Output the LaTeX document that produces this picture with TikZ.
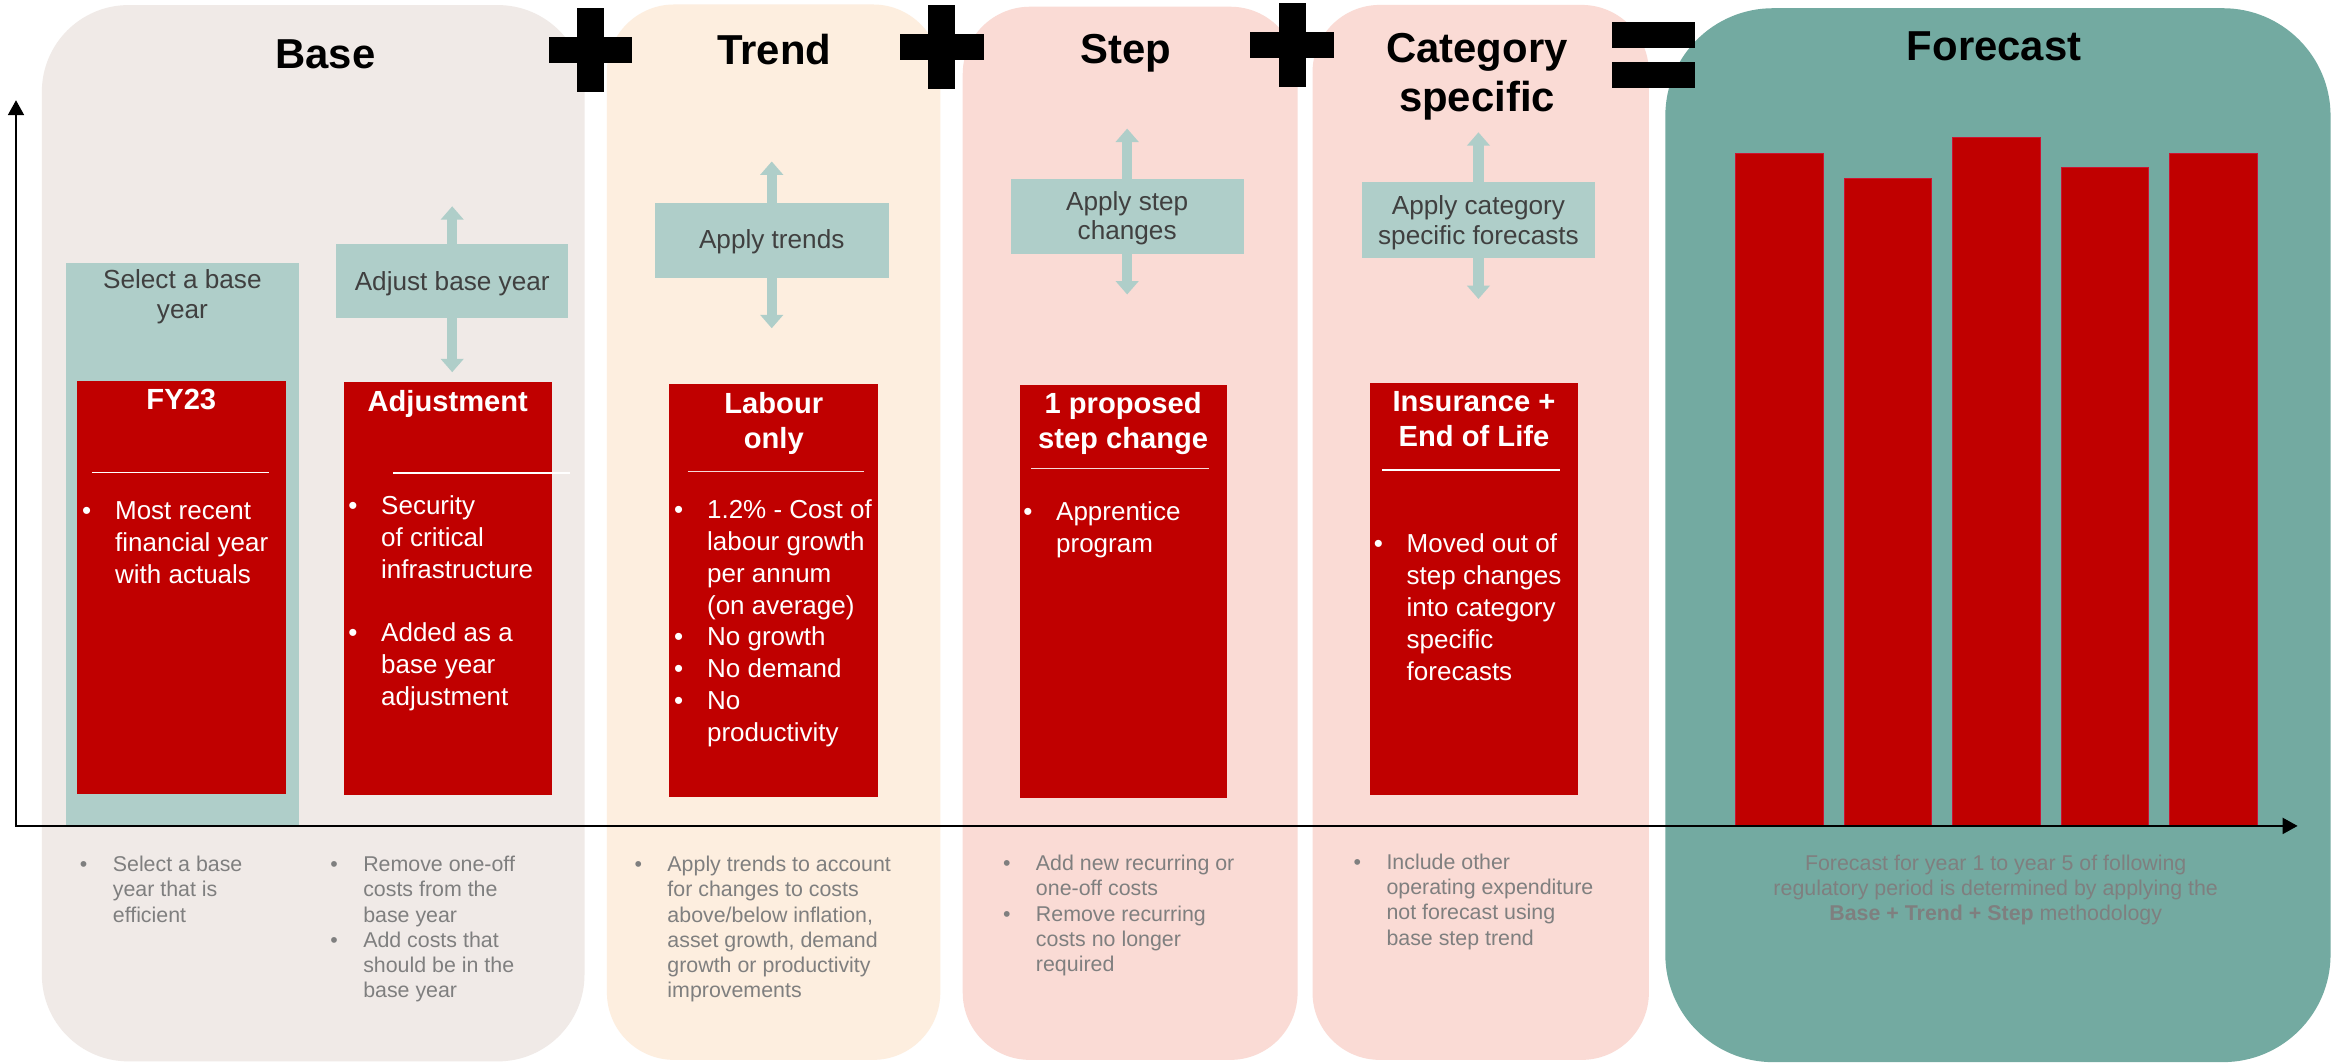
\documentclass[tikz,border=0pt]{standalone}
\usepackage{fontspec}
\setmainfont{Liberation Sans}
\usetikzlibrary{arrows.meta,fit}

\definecolor{basebg}{RGB}{240,234,231}
\definecolor{trendbg}{RGB}{253,238,223}
\definecolor{stepbg}{RGB}{250,219,213}
\definecolor{fcbg}{RGB}{115,170,161}
\definecolor{tealbox}{RGB}{175,206,201}
\definecolor{redbox}{RGB}{192,0,0}
\definecolor{baredge}{RGB}{205,20,50}
\definecolor{darktxt}{RGB}{64,64,64}
\definecolor{greytxt}{RGB}{127,127,127}

% stacked rows whose baseline is the first row's baseline
\newcommand\leftrows[1]{\vtop{\let\\\cr\halign{##\hfil\cr#1\crcr}}}
\newcommand\midrows[1]{\vtop{\let\\\cr\halign{\hfil##\hfil\cr#1\crcr}}}
% bullet and hanging indent
\newcommand\bmark{\hbox to 22pt{\textbullet\hfil}}
\newcommand\bcont{\hskip22pt\relax}

\tikzset{
  every node/.style={inner sep=0pt,outer sep=0pt},
  tealrect/.style={fill=tealbox},
  redrect/.style={fill=redbox},
  sepline/.style={draw=white,line width=1pt},
  tealarrow/.style={draw=tealbox,line width=7pt,-{Triangle[length=9pt,width=15pt]}},
  axisline/.style={draw=black,line width=1.8pt,
    {Triangle[length=10pt,width=10.5pt]}-{Triangle[length=10pt,width=10.5pt]}},
  bar/.style={fill=redbox,draw=baredge,line width=0.6pt},
  titletxt/.style={anchor=base,text=black,font=\fontsize{28}{32.7}\selectfont\bfseries},
  headtxt/.style={anchor=base,text=white,font=\fontsize{19.5}{23.4}\selectfont\bfseries},
  bodytxt/.style={anchor=base west,text=white,font=\fontsize{17.4}{21.35}\selectfont},
  tealtxt/.style={anchor=base,text=darktxt,font=\fontsize{17.5}{20}\selectfont},
  notetxt/.style={anchor=base west,text=greytxt,font=\fontsize{14.3}{16.9}\selectfont},
  plussign/.pic={\fill[black] (-28,-8.7) rectangle (28,8.7);
                 \fill[black] (-9,-28) rectangle (9,28);}
}

\begin{document}
\begin{tikzpicture}[x=1pt,y=-1pt]
\useasboundingbox (0,0) rectangle (1568,711);
\fill[white] (0,0) rectangle (1568,711);

% column panels
\fill[basebg,rounded corners=58pt] (28,3.4) rectangle (391,710);
\fill[trendbg,rounded corners=45pt] (406,3) rectangle (629,709);
\fill[stepbg,rounded corners=45pt] (644,4.5) rectangle (868,709);
\fill[stepbg,rounded corners=45pt] (878,3.3) rectangle (1103,709);
\fill[fcbg,rounded corners=72pt] (1114,5.5) rectangle (1559,710.5);

% teal action boxes
\node[tealrect,fit={(44,176) (200,552.5)}] (sel) {};
\node[tealrect,fit={(225,163) (380,213)}] (adj) {};
\node[tealrect,fit={(438,135.5) (594.5,186)}] (trd) {};
\node[tealrect,fit={(676,120) (832,170)}] (stpa) {};
\node[tealrect,fit={(911,122) (1067,172.5)}] (cata) {};

% red content boxes
\node[redrect,fit={(51.5,255) (191,531)}] (fy) {};
\node[redrect,fit={(230,255.5) (369,532)}] (adjb) {};
\node[redrect,fit={(447.7,257) (587.5,533)}] (lab) {};
\node[redrect,fit={(682,257.5) (820.5,533.5)}] (stpb) {};
\node[redrect,fit={(916.5,256) (1055.5,532)}] (ins) {};

% separators under the box headings
\draw[sepline] (61.5,316) -- (180,316);
\draw[sepline] (263,316.5) -- (381.5,316.5);
\draw[sepline,draw opacity=0.85] (460,315.5) -- (578,315.5);
\draw[sepline,draw opacity=0.85] (690,313.5) -- (808.7,313.5);
\draw[sepline] (924.5,314.4) -- (1043.5,314.4);

% up/down arrows on the action boxes
\coordinate (adjup) at (302.5,138);   \coordinate (adjdn) at (302.5,249);
\coordinate (trdup) at (516.25,108);  \coordinate (trddn) at (516.25,219.6);
\coordinate (stpup) at (754,86);      \coordinate (stpdn) at (754,197);
\coordinate (catup) at (989,88.5);    \coordinate (catdn) at (989,200);
\draw[tealarrow] (adj.north) -- (adjup);
\draw[tealarrow] (adj.south) -- (adjdn);
\draw[tealarrow] (trd.north) -- (trdup);
\draw[tealarrow] (trd.south) -- (trddn);
\draw[tealarrow] (stpa.north) -- (stpup);
\draw[tealarrow] (stpa.south) -- (stpdn);
\draw[tealarrow] (cata.north) -- (catup);
\draw[tealarrow] (cata.south) -- (catdn);

% forecast bars
\fill[bar] (1161,102.6) rectangle (1220,552.5);
\fill[bar] (1233.5,119.5) rectangle (1292,552.5);
\fill[bar] (1306,92) rectangle (1365,552.5);
\fill[bar] (1379,112) rectangle (1437.5,552.5);
\fill[bar] (1451.5,102.6) rectangle (1510,552.5);
\draw[bar] (1161,102.6) rectangle (1220,552.5);
\draw[bar] (1233.5,119.5) rectangle (1292,552.5);
\draw[bar] (1306,92) rectangle (1365,552.5);
\draw[bar] (1379,112) rectangle (1437.5,552.5);
\draw[bar] (1451.5,102.6) rectangle (1510,552.5);

% axes
\coordinate (ytip) at (10.7,67);
\coordinate (origin) at (10.7,552.5);
\coordinate (xtip) at (1537,552.5);
\draw[axisline] (ytip) -- (origin) -- (xtip);

% operators
\pic at (395,33.4) {plussign};
\pic at (630,31.5) {plussign};
\pic at (864.5,30) {plussign};
\fill[black] (1078,15) rectangle (1134,32);
\fill[black] (1078,41.5) rectangle (1134,59);

% column titles
\node[titletxt] (tbase) at (217.7,45.7) {Base};
\node[titletxt] (ttrend) at (518,43) {Trend};
\node[titletxt] (tstep) at (753,42.4) {Step};
\node[titletxt] (tcat) at (988,42) {\midrows{Category\\specific}};
\node[titletxt] (tfc) at (1334,40.8) {Forecast};

% action box labels
\node[tealtxt] (lsel) at (122,193) {\midrows{Select a base\\year}};
\node[tealtxt] (ladj) at (302.5,194) {Adjust base year};
\node[tealtxt] (ltrd) at (516.25,166) {Apply trends};
\node[tealtxt] (lstp) at (754,140.5) {\midrows{Apply step\\changes}};
\node[tealtxt] (lcat) at (989,143.3) {\midrows{Apply category\\specific forecasts}};

% red box headings
\node[headtxt] (hfy) at (121.3,274) {FY23};
\node[headtxt] (hadj) at (299.5,275) {Adjustment};
\node[headtxt] (hlab) at (517.6,276.5) {\midrows{Labour\\only}};
\node[headtxt] (hstp) at (751.3,276.5) {\midrows{1 proposed\\step change}};
\node[headtxt] (hins) at (986,275.4) {\midrows{Insurance +\\End of Life}};

% red box bodies
\node[bodytxt] (bfy) at (55,347.5) {\leftrows{%
  \bmark Most recent\\\bcont financial year\\\bcont with actuals}};
\node[bodytxt] (badj) at (233,344) {\leftrows{%
  \bmark Security\\\bcont of critical\\\bcont infrastructure\\\\%
  \bmark Added as a\\\bcont base year\\\bcont adjustment}};
\node[bodytxt] (blab) at (451,346.7) {\leftrows{%
  \bmark 1.2\% - Cost of\\\bcont labour growth\\\bcont per annum\\\bcont (on average)\\%
  \bmark No growth\\\bmark No demand\\\bmark No\\\bcont productivity}};
\node[bodytxt] (bstp) at (684.5,348) {\leftrows{%
  \bmark Apprentice\\\bcont program}};
\node[bodytxt] (bins) at (919,369.7) {\leftrows{%
  \bmark Moved out of\\\bcont step changes\\\bcont into category\\\bcont specific\\\bcont forecasts}};

% notes below the axis
\node[notetxt] (nsel) at (53.5,583) {\leftrows{%
  \bmark Select a base\\\bcont year that is\\\bcont efficient}};
\node[notetxt] (nadj) at (221,583) {\leftrows{%
  \bmark Remove one-off\\\bcont costs from the\\\bcont base year\\%
  \bmark Add costs that\\\bcont should be in the\\\bcont base year}};
\node[notetxt] (ntrd) at (424.5,583) {\leftrows{%
  \bmark Apply trends to account\\\bcont for changes to costs\\\bcont above/below inflation,\\%
  \bcont asset growth, demand\\\bcont growth or productivity\\\bcont improvements}};
\node[notetxt] (nstp) at (671,582.4) {\leftrows{%
  \bmark Add new recurring or\\\bcont one-off costs\\%
  \bmark Remove recurring\\\bcont costs no longer\\\bcont required}};
\node[notetxt] (ncat) at (905.5,581.5) {\leftrows{%
  \bmark Include other\\\bcont operating expenditure\\\bcont not forecast using\\\bcont base step trend}};
\node[notetxt,anchor=base,font=\fontsize{14.3}{16.75}\selectfont] (nfc) at (1335,582) {\midrows{%
  Forecast for year 1 to year 5 of following\\regulatory period is determined by applying the\\%
  \textbf{Base + Trend + Step} methodology}};
\end{tikzpicture}
\end{document}
